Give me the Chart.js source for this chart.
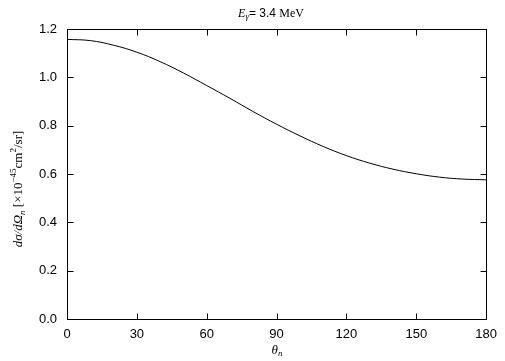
<!DOCTYPE html>
<html lang="en">
<head>
  <meta charset="UTF-8">
  <title>Cross section vs angle</title>
  <script src="https://cdn.jsdelivr.net/npm/chart.js"></script>
  <style>
    html, body { margin: 0; padding: 0; background: #fff; }
    #wrap { width: 505px; height: 361px; }
  </style>
</head>
<body>
  <div id="wrap"><canvas id="myChart" width="505" height="361"></canvas></div>

  <script>
    // values
    const angles = [0, 10, 20, 30, 40, 50, 60, 70, 80, 90, 100, 110, 120, 130, 140, 150, 160, 170, 180];
    const crossSection = [1.157, 1.152, 1.133, 1.104, 1.065, 1.018, 0.966, 0.913, 0.858, 0.806,
                          0.758, 0.714, 0.676, 0.645, 0.620, 0.601, 0.587, 0.579, 0.576];
    const xTicks = [0, 30, 60, 90, 120, 150, 180];
    const yTicks = [0, 0.2, 0.4, 0.6, 0.8, 1.0, 1.2];

    const sans = '"Liberation Sans", Arial, sans-serif';
    const serif = '"Liberation Serif", "Times New Roman", serif';

    // draws a run of text pieces; each piece: [text, font, dy]
    function drawRuns(ctx, pieces, x, y, align) {
      let total = 0;
      pieces.forEach(p => { ctx.font = p[1]; total += ctx.measureText(p[0]).width; });
      let cx = align === 'center' ? x - total / 2 : x;
      pieces.forEach(p => {
        ctx.font = p[1];
        ctx.fillText(p[0], cx, y + (p[2] || 0));
        cx += ctx.measureText(p[0]).width;
      });
    }

    const framePlugin = {
      id: 'frame',
      afterDraw(chart) {
        const ctx = chart.ctx;
        const a = chart.chartArea;
        const xs = chart.scales.x, ys = chart.scales.y;
        const L = Math.round(a.left) + 0.5, R = Math.round(a.right) + 0.5;
        const T = Math.round(a.top) + 0.5, B = Math.round(a.bottom) + 0.5;
        const tl = 6;
        ctx.save();
        ctx.strokeStyle = '#000';
        ctx.lineWidth = 1;
        ctx.strokeRect(L, T, R - L, B - T);
        ctx.beginPath();
        xTicks.forEach(v => {
          const px = Math.round(xs.getPixelForValue(v)) + 0.5;
          ctx.moveTo(px, B); ctx.lineTo(px, B - tl);
          ctx.moveTo(px, T); ctx.lineTo(px, T + tl);
        });
        yTicks.forEach(v => {
          const py = Math.round(ys.getPixelForValue(v)) + 0.5;
          ctx.moveTo(L, py); ctx.lineTo(L + tl, py);
          ctx.moveTo(R, py); ctx.lineTo(R - tl, py);
        });
        ctx.stroke();

        ctx.fillStyle = '#000';
        ctx.textBaseline = 'alphabetic';
        ctx.textAlign = 'left';

        // title: E_gamma = 3.4 MeV
        drawRuns(ctx, [
          ['E', 'italic 12px ' + serif, 0],
          ['\u03B3', 'italic 9px ' + serif, 2],
          ['= 3.4 ', '12px ' + sans, 0],
          ['MeV', '12px ' + serif, 0]
        ], 271, 17, 'center');

        // x axis title: theta_n
        drawRuns(ctx, [
          ['\u03B8', 'italic 13px ' + serif, 0],
          ['n', 'italic 9px ' + serif, 2]
        ], 277, 354, 'center');

        // y axis title, rotated
        ctx.translate(22, 189);
        ctx.rotate(-Math.PI / 2);
        drawRuns(ctx, [
          ['d\u03C3/d\u03A9', 'italic 13px ' + serif, 0],
          ['n', 'italic 9px ' + serif, 3],
          [' [\u00D710', '13px ' + serif, 0],
          ['\u221245', '9px ' + serif, -6],
          ['cm', '13px ' + serif, 0],
          ['2', '9px ' + serif, -6],
          ['/sr]', '13px ' + serif, 0]
        ], 0, 0, 'center');
        ctx.restore();
      }
    };

    const ctx = document.getElementById('myChart').getContext('2d');
    new Chart(ctx, {
      type: 'line',
      data: {
        datasets: [{
          data: angles.map((a, i) => ({ x: a, y: crossSection[i] })),
          borderColor: '#000',
          borderWidth: 1,
          pointRadius: 0,
          tension: 0.4,
          fill: false
        }]
      },
      options: {
        responsive: false,
        animation: false,
        events: [],
        layout: { padding: { left: 0, right: 17, top: 29, bottom: 0 } },
        plugins: { legend: { display: false }, tooltip: { enabled: false } },
        scales: {
          x: {
            type: 'linear',
            min: 0, max: 180,
            afterFit: s => { s.height = 42; },
            afterBuildTicks: s => { s.ticks = xTicks.map(v => ({ value: v })); },
            grid: { display: false, drawTicks: false },
            border: { display: false },
            ticks: { color: '#000', font: { family: sans, size: 13 }, padding: 8, maxRotation: 0 }
          },
          y: {
            type: 'linear',
            min: 0, max: 1.2,
            afterFit: s => { s.width = 67; },
            afterBuildTicks: s => { s.ticks = yTicks.map(v => ({ value: v })); },
            grid: { display: false, drawTicks: false },
            border: { display: false },
            ticks: { color: '#000', font: { family: sans, size: 13 }, padding: 10,
                     callback: v => v.toFixed(1) }
          }
        }
      },
      plugins: [framePlugin]
    });
  </script>
</body>
</html>
